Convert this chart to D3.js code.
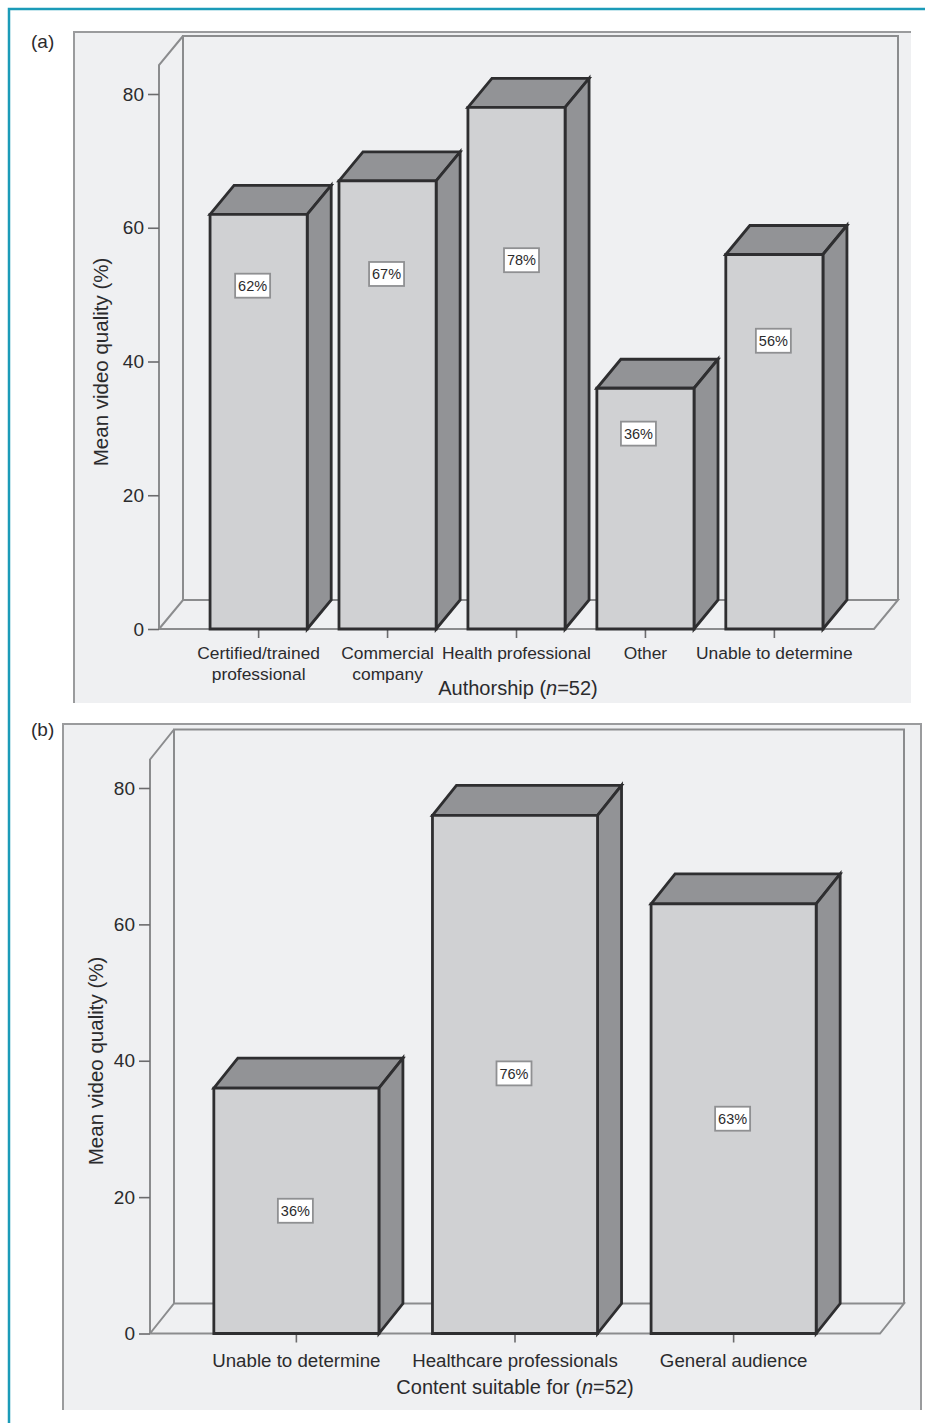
<!DOCTYPE html>
<html>
<head>
<meta charset="utf-8">
<style>
  html, body { margin: 0; padding: 0; background: #fff; }
  svg { display: block; }
  text { font-family: "Liberation Sans", Arial, sans-serif; fill: #2b2b2d; }
</style>
<script src="https://cdn.jsdelivr.net/npm/d3@7/dist/d3.min.js"></script>
</head>
<body>
<script>
// Mean video quality by authorship and by intended audience
const yTicks = [0, 20, 40, 60, 80];

const authorshipCategories = [
  ["Certified/trained", "professional"],
  ["Commercial", "company"],
  ["Health professional"],
  ["Other"],
  ["Unable to determine"]
];
const authorshipValues = [62, 67, 78, 36, 56];

const audienceCategories = [
  ["Unable to determine"],
  ["Healthcare professionals"],
  ["General audience"]
];
const audienceValues = [36, 76, 63];

const WIDTH = 925, HEIGHT = 1423;
const colors = {
  frame: "#1b9bb8", panel: "#eff0f2", wall: "#8b8c8e", panelEdge: "#9a9b9d",
  front: "#d0d1d3", shade: "#929396", barEdge: "#2e2e30", tick: "#6b6b6d"
};

const svg = d3.select("body").append("svg")
  .attr("width", WIDTH).attr("height", HEIGHT);

// Teal rule along the top and left of the figure
svg.append("path")
  .attr("d", d3.line()([[9, HEIGHT], [9, 9], [WIDTH, 9]]))
  .attr("fill", "none").attr("stroke", colors.frame).attr("stroke-width", 2.5);

function drawPanel(cfg) {
  const g = svg.append("g");
  const { x0, x1, yBase, y80, dx, dy } = cfg.plot;

  const y = d3.scaleLinear().domain([0, 80]).range([yBase, y80]);
  const x = d3.scaleBand()
    .domain(d3.range(cfg.categories.length))
    .range([x0, x1])
    .paddingInner(cfg.paddingInner)
    .paddingOuter(cfg.paddingOuter);

  // Panel background, with its ruled top and outer edges
  g.append("rect")
    .attr("x", cfg.box.left).attr("y", cfg.box.top)
    .attr("width", cfg.box.right - cfg.box.left)
    .attr("height", cfg.box.bottom - cfg.box.top)
    .attr("fill", colors.panel);
  g.append("path")
    .attr("d", d3.line()(cfg.box.edge))
    .attr("fill", "none").attr("stroke", colors.panelEdge).attr("stroke-width", 2);

  // Box walls and floor of the 3-D plot area
  const wallTop = yBase + dy - cfg.plot.wallHeight;
  const wallPaths = [
    [[x0, yBase], [x0, wallTop - dy], [x0 + dx, wallTop]],
    [[x0 + dx, yBase + dy], [x0 + dx, wallTop], [x1 + dx, wallTop], [x1 + dx, yBase + dy]],
    [[x0, yBase], [x0 + dx, yBase + dy], [x1 + dx, yBase + dy], [x1, yBase], [x0, yBase]]
  ];
  g.selectAll("path.wall").data(wallPaths).join("path")
    .attr("class", "wall")
    .attr("d", d => d3.line()(d))
    .attr("fill", "none").attr("stroke", colors.wall).attr("stroke-width", 2);

  // Axes
  const yAxis = g.append("g")
    .attr("transform", `translate(${x0},0)`)
    .call(d3.axisLeft(y).tickValues(yTicks).tickSize(11).tickPadding(4));
  const xAxis = g.append("g")
    .attr("transform", `translate(0,${yBase})`)
    .call(d3.axisBottom(x).tickSize(9).tickFormat(""));
  [yAxis, xAxis].forEach(a => {
    a.select(".domain").remove();
    a.selectAll("line").attr("stroke", colors.tick).attr("stroke-width", 1.6);
  });
  yAxis.selectAll("text").attr("font-size", 19)
    .style("font-family", '"Liberation Sans", Arial, sans-serif').attr("fill", "#2b2b2d");

  // Bars: top and side faces first, then the front face
  const bars = g.selectAll("g.bar").data(cfg.values).join("g").attr("class", "bar");
  const face = (sel, pts, fill) => sel.append("path")
    .attr("d", (d, i) => d3.line()(pts(d, i)) + "Z")
    .attr("fill", fill).attr("stroke", colors.barEdge)
    .attr("stroke-width", 2.8).attr("stroke-linejoin", "miter");

  face(bars, (d, i) => {
    const l = x(i), r = l + x.bandwidth(), t = y(d);
    return [[l, t], [l + dx, t + dy], [r + dx, t + dy], [r, t]];
  }, colors.shade);
  face(bars, (d, i) => {
    const r = x(i) + x.bandwidth(), t = y(d);
    return [[r, t], [r + dx, t + dy], [r + dx, yBase + dy], [r, yBase]];
  }, colors.shade);
  face(bars, (d, i) => {
    const l = x(i), r = l + x.bandwidth(), t = y(d);
    return [[l, t], [r, t], [r, yBase], [l, yBase]];
  }, colors.front);

  // Value labels in small white boxes
  bars.each(function (d, i) {
    const [nx, ny] = cfg.labelNudge[i];
    const cx = x(i) + x.bandwidth() / 2 + nx;
    const cy = (y(d) + yBase) / 2 + ny;
    const b = d3.select(this);
    b.append("rect")
      .attr("x", cx - 17.5).attr("y", cy - 12).attr("width", 35).attr("height", 24)
      .attr("fill", "#fff").attr("stroke", "#8f9092").attr("stroke-width", 1.8);
    b.append("text").attr("x", cx).attr("y", cy + 5.3)
      .attr("text-anchor", "middle").attr("font-size", 14.5).text(`${d}%`);
  });

  // Category labels, one or two lines each
  cfg.categories.forEach((lines, i) => {
    const t = g.append("text")
      .attr("x", x(i) + x.bandwidth() / 2)
      .attr("text-anchor", "middle").attr("font-size", cfg.catSize);
    lines.forEach((line, k) => {
      t.append("tspan")
        .attr("x", x(i) + x.bandwidth() / 2)
        .attr("y", yBase + cfg.catOffset + k * 21)
        .text(line);
    });
  });

  // Axis titles and panel letter
  g.append("text")
    .attr("transform", `translate(${cfg.yTitle[0]},${cfg.yTitle[1]}) rotate(-90)`)
    .attr("text-anchor", "middle").attr("font-size", cfg.yTitleSize)
    .text("Mean video quality (%)");

  const xt = g.append("text")
    .attr("x", cfg.xTitle[0]).attr("y", cfg.xTitle[1])
    .attr("text-anchor", "middle").attr("font-size", 20);
  xt.append("tspan").text(cfg.xTitleText + " (");
  xt.append("tspan").attr("font-style", "italic").text("n");
  xt.append("tspan").text("=52)");

  g.append("text")
    .attr("x", 31).attr("y", cfg.letterY)
    .attr("font-size", 19).text(cfg.letter);
}

drawPanel({
  letter: "(a)", letterY: 48,
  categories: authorshipCategories, values: authorshipValues,
  box: { left: 74, right: 911, top: 32, bottom: 703,
         edge: [[74, 703], [74, 32], [911, 32]] },
  plot: { x0: 159, x1: 874, yBase: 629, y80: 94, dx: 24, dy: -29, wallHeight: 564 },
  paddingInner: 0.2466, paddingOuter: 0.396,
  labelNudge: [[-6, -136], [-1, -131], [5, -108], [-7, -75], [-1, -101]],
  catSize: 17.4, catOffset: 30,
  yTitle: [108, 362], yTitleSize: 20.5,
  xTitle: [518, 695], xTitleText: "Authorship"
});

drawPanel({
  letter: "(b)", letterY: 736,
  categories: audienceCategories, values: audienceValues,
  box: { left: 63, right: 921, top: 724, bottom: 1410,
         edge: [[63, 1410], [63, 724], [921, 724], [921, 1410]] },
  plot: { x0: 150, x1: 880, yBase: 1333.5, y80: 788, dx: 24, dy: -30, wallHeight: 574 },
  paddingInner: 0.2449, paddingOuter: 0.292,
  labelNudge: [[-1, 0], [-1, -1], [-1, 0]],
  catSize: 18.7, catOffset: 33,
  yTitle: [103, 1061], yTitleSize: 20.5,
  xTitle: [515, 1394], xTitleText: "Content suitable for"
});
</script>
</body>
</html>
